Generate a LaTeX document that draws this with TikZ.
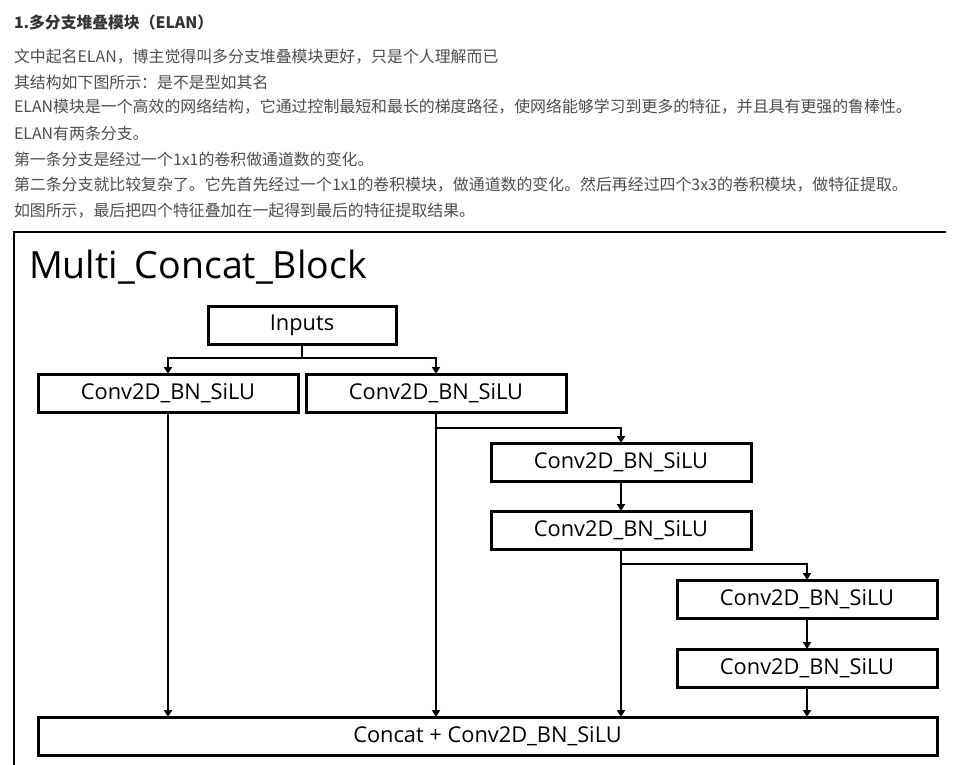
\documentclass[tikz,border=0pt]{standalone}
\usepackage{fontspec}
\setmainfont{Open Sans}
\newfontfamily\cjk{Noto Sans CJK SC}
\usetikzlibrary{arrows.meta}
\definecolor{bodytext}{HTML}{4D4D4D}
\definecolor{headtext}{HTML}{333333}

\begin{document}
\begin{tikzpicture}[
    x=1pt, y=-1pt,
    every node/.style={inner sep=0pt, outer sep=0pt},
    para/.style={anchor=west, font=\cjk\fontsize{15.9}{18}\selectfont, text=bodytext},
    block/.style={draw, line width=3pt, minimum height=38pt, font=\fontsize{21.8}{24}\selectfont},
    arrow/.style={-{Triangle[length=7pt, width=8pt]}, line width=2.6pt}
]
\useasboundingbox (0,0) rectangle (963,765);

% Text above the figure
\node[para, text=headtext, font=\cjk\bfseries\fontsize{15.8}{18}\selectfont] (head) at (14, 22) {1.多分支堆叠模块（ELAN）};
\node[para] (p1) at (14, 57) {文中起名ELAN，博主觉得叫多分支堆叠模块更好，只是个人理解而已};
\node[para] (p2) at (14, 82) {其结构如下图所示：是不是型如其名};
\node[para] (p3) at (14, 107) {ELAN模块是一个高效的网络结构，它通过控制最短和最长的梯度路径，使网络能够学习到更多的特征，并且具有更强的鲁棒性。};
\node[para] (p4) at (14, 133) {ELAN有两条分支。};
\node[para] (p5) at (14, 159) {第一条分支是经过一个1x1的卷积做通道数的变化。};
\node[para] (p6) at (14, 185) {第二条分支就比较复杂了。它先首先经过一个1x1的卷积模块，做通道数的变化。然后再经过四个3x3的卷积模块，做特征提取。};
\node[para] (p7) at (14, 211) {如图所示，最后把四个特征叠加在一起得到最后的特征提取结果。};

% Figure frame
\draw[line width=2.8pt] (14, 765) -- (14, 232) -- (946, 232);
\node[anchor=west, font=\fontsize{37.5}{40}\selectfont] (title) at (29, 267) {Multi\_Concat\_Block};

% Blocks
\node[block, minimum width=188pt] (inputs) at (302, 325) {Inputs};
\node[block, minimum width=260pt] (conv1) at (168, 393) {Conv2D\_BN\_SiLU};
\node[block, minimum width=260pt] (conv2) at (436, 393) {Conv2D\_BN\_SiLU};
\node[block, minimum width=260pt] (conv3) at (621, 462) {Conv2D\_BN\_SiLU};
\node[block, minimum width=260pt] (conv4) at (621, 530) {Conv2D\_BN\_SiLU};
\node[block, minimum width=260pt] (conv5) at (807, 599) {Conv2D\_BN\_SiLU};
\node[block, minimum width=260pt] (conv6) at (807, 668) {Conv2D\_BN\_SiLU};
\node[block, minimum width=899pt] (concat) at (487.5, 736) {Concat + Conv2D\_BN\_SiLU};

% Split points
\coordinate (s1) at (302, 358);
\coordinate (s2) at (436, 428);
\coordinate (s3) at (621, 564);

% Connections
\draw[line width=2.6pt] (inputs.south) -- (s1);
\draw[arrow] (s1) -| (conv1.north);
\draw[arrow] (s1) -| (conv2.north);
\draw[arrow] (s2) -| (conv3.north);
\draw[arrow] (conv3) -- (conv4);
\draw[arrow] (s3) -| (conv5.north);
\draw[arrow] (conv5) -- (conv6);

\draw[arrow] (conv1.south) -- (conv1.south |- concat.north);
\draw[arrow] (conv2.south) -- (conv2.south |- concat.north);
\draw[arrow] (conv4.south) -- (conv4.south |- concat.north);
\draw[arrow] (conv6.south) -- (conv6.south |- concat.north);

\end{tikzpicture}
\end{document}
